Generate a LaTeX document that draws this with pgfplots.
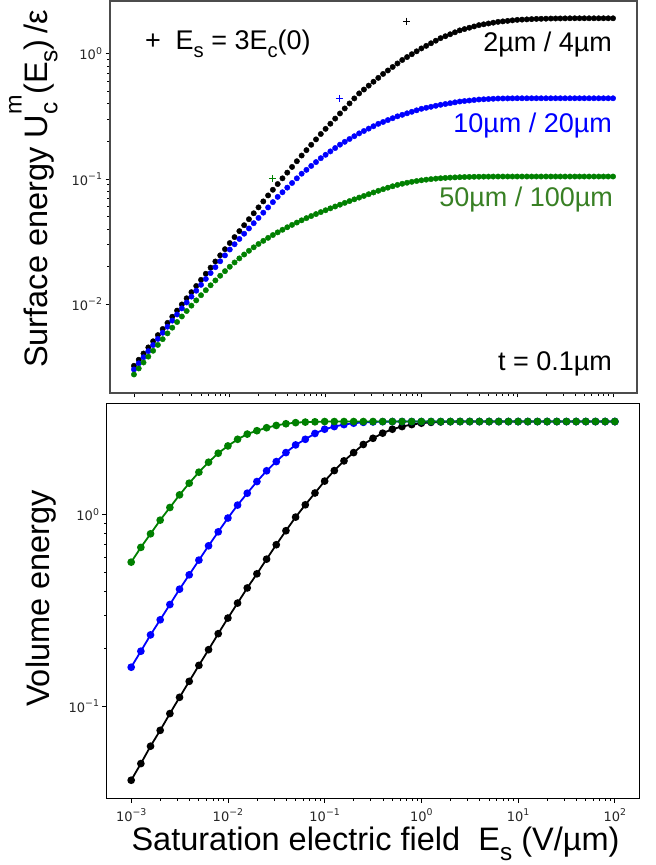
\documentclass[border=0pt]{standalone}
\usepackage{pgfplots}
\pgfplotsset{compat=1.18}
\usepackage{pgfplotstable}
\usepackage{graphicx}
\usepackage{fontspec}
\setmainfont{Liberation Sans}
\newfontfamily\tickfont{DejaVu Sans}
\definecolor{mplgreen}{RGB}{0,128,0}
\definecolor{txtgreen}{RGB}{56,128,36}
\newcommand\lo[1]{\raisebox{-0.3em}{\scalebox{0.75}{#1}}}
\newcommand\hi[1]{\raisebox{0.8em}{\scalebox{0.72}{#1}}}
\newcommand\tsup[1]{\raisebox{0.42em}{\scalebox{0.72}{#1}}}

\pgfplotstableread{
x b l g
1.000e-3 3.23e-3 3.020e-3 2.754e-3
1.122e-3 3.61e-3 3.381e-3 3.076e-3
1.259e-3 4.05e-3 3.780e-3 3.432e-3
1.413e-3 4.53e-3 4.227e-3 3.824e-3
1.585e-3 5.07e-3 4.732e-3 4.258e-3
1.778e-3 5.68e-3 5.297e-3 4.740e-3
1.995e-3 6.35e-3 5.923e-3 5.272e-3
2.239e-3 7.11e-3 6.622e-3 5.861e-3
2.512e-3 7.96e-3 7.413e-3 6.510e-3
2.818e-3 8.91e-3 8.299e-3 7.221e-3
3.162e-3 9.98e-3 9.279e-3 7.998e-3
3.548e-3 1.117e-2 1.034e-2 8.841e-3
3.981e-3 1.250e-2 1.152e-2 9.761e-3
4.467e-3 1.400e-2 1.284e-2 1.075e-2
5.012e-3 1.567e-2 1.431e-2 1.182e-2
5.623e-3 1.754e-2 1.594e-2 1.296e-2
6.310e-3 1.963e-2 1.776e-2 1.419e-2
7.079e-3 2.198e-2 1.979e-2 1.551e-2
7.943e-3 2.460e-2 2.206e-2 1.690e-2
8.913e-3 2.754e-2 2.458e-2 1.839e-2
1.000e-2 3.083e-2 2.738e-2 1.995e-2
1.122e-2 3.44e-2 3.017e-2 2.158e-2
1.259e-2 3.84e-2 3.323e-2 2.326e-2
1.413e-2 4.28e-2 3.660e-2 2.497e-2
1.585e-2 4.78e-2 4.032e-2 2.673e-2
1.778e-2 5.33e-2 4.441e-2 2.851e-2
1.995e-2 5.94e-2 4.892e-2 3.031e-2
2.239e-2 6.63e-2 5.388e-2 3.210e-2
2.512e-2 7.40e-2 5.936e-2 3.392e-2
2.818e-2 8.21e-2 6.540e-2 3.573e-2
3.162e-2 9.12e-2 7.204e-2 3.754e-2
3.548e-2 0.1013 7.845e-2 3.936e-2
3.981e-2 0.1125 8.54e-2 4.121e-2
4.467e-2 0.1249 9.30e-2 4.305e-2
5.012e-2 0.1387 0.1013 4.493e-2
5.623e-2 0.1540 0.1103 4.683e-2
6.310e-2 0.1700 0.1184 4.875e-2
7.079e-2 0.1877 0.1272 5.064e-2
7.943e-2 0.2072 0.1366 5.253e-2
8.913e-2 0.2288 0.1467 5.445e-2
0.1000 0.2515 0.1561 5.636e-2
0.1122 0.2764 0.1662 5.834e-2
0.1259 0.3037 0.1768 6.035e-2
0.1413 0.3338 0.1881 6.241e-2
0.1585 0.3660 0.1982 6.452e-2
0.1778 0.4013 0.2087 6.668e-2
0.1995 0.4400 0.2198 6.887e-2
0.2239 0.4825 0.2314 7.108e-2
0.2512 0.518 0.2418 7.330e-2
0.2818 0.5565 0.2526 7.569e-2
0.3162 0.598 0.2639 7.810e-2
0.3548 0.642 0.2758 8.051e-2
0.3981 0.690 0.2854 8.292e-2
0.4467 0.7355 0.2955 8.531e-2
0.5012 0.7845 0.3059 8.759e-2
0.5623 0.8366 0.3166 8.978e-2
0.6310 0.892 0.3255 9.164e-2
0.7079 0.941 0.3346 9.337e-2
0.7943 0.992 0.3440 9.495e-2
0.8913 1.0459 0.3536 9.638e-2
1.000 1.103 0.3635 9.768e-2
1.122 1.156 0.3703 9.883e-2
1.259 1.212 0.3772 9.984e-2
1.413 1.271 0.3842 0.10072
1.585 1.332 0.3913 0.10146
1.778 1.380 0.3972 0.10209
1.995 1.431 0.4032 0.10263
2.239 1.483 0.4093 0.10308
2.512 1.537 0.4155 0.10347
2.818 1.574 0.4194 0.10378
3.162 1.613 0.4232 0.10402
3.548 1.652 0.4271 0.10421
3.981 1.692 0.4311 0.10435
4.467 1.718 0.4331 0.10447
5.012 1.744 0.4351 0.10457
5.623 1.770 0.4371 0.10464
6.310 1.797 0.4391 0.10469
7.079 1.813 0.4396 0.10471
7.943 1.830 0.4402 0.10471
8.913 1.847 0.4406 0.10471
10.00 1.864 0.4411 0.10471
11.22 1.873 0.4411 0.10471
12.59 1.881 0.4411 0.10471
14.13 1.890 0.4411 0.10471
15.85 1.898 0.4411 0.10471
17.78 1.901 0.4411 0.10471
19.95 1.905 0.4411 0.10471
22.39 1.910 0.4411 0.10471
25.12 1.912 0.4411 0.10471
28.18 1.914 0.4411 0.10471
31.62 1.916 0.4411 0.10471
35.48 1.919 0.4411 0.10471
39.81 1.919 0.4411 0.10471
44.67 1.919 0.4411 0.10471
50.12 1.919 0.4411 0.10471
56.23 1.919 0.4411 0.10471
63.10 1.919 0.4411 0.10471
70.79 1.919 0.4411 0.10471
79.43 1.919 0.4411 0.10471
89.13 1.919 0.4411 0.10471
100.0 1.919 0.4411 0.10471
}\toptab

\pgfplotstableread{
x b l g
1.000e-3 0.0411 0.160 0.566
1.259e-3 0.0502 0.194 0.676
1.585e-3 0.0619 0.236 0.796
1.995e-3 0.0749 0.283 0.938
2.512e-3 0.0916 0.340 1.092
3.162e-3 0.1114 0.409 1.271
3.981e-3 0.135 0.486 1.463
5.012e-3 0.1636 0.580 1.670
6.310e-3 0.1976 0.689 1.883
7.943e-3 0.2395 0.815 2.098
1.000e-2 0.289 0.962 2.29
1.259e-2 0.346 1.124 2.48
1.585e-2 0.415 1.297 2.64
1.995e-2 0.492 1.492 2.75
2.512e-2 0.587 1.698 2.85
3.162e-2 0.698 1.897 2.93
3.981e-2 0.826 2.113 2.99
5.012e-2 0.973 2.318 3.03
6.310e-2 1.128 2.48 3.05
7.943e-2 1.300 2.66 3.06
0.1000 1.50 2.80 3.07
0.1259 1.702 2.89 3.07
0.1585 1.913 2.96 3.07
0.1995 2.113 3.01 3.07
0.2512 2.33 3.04 3.07
0.3162 2.51 3.055 3.07
0.3981 2.67 3.065 3.07
0.5012 2.80 3.07 3.07
0.6310 2.89 3.07 3.07
0.7943 2.96 3.07 3.07
1.000 3.01 3.07 3.07
1.259 3.04 3.07 3.07
1.585 3.055 3.07 3.07
1.995 3.065 3.07 3.07
2.512 3.07 3.07 3.07
3.162 3.07 3.07 3.07
3.981 3.07 3.07 3.07
5.012 3.07 3.07 3.07
6.310 3.07 3.07 3.07
7.943 3.07 3.07 3.07
10.00 3.07 3.07 3.07
12.59 3.07 3.07 3.07
15.85 3.07 3.07 3.07
19.95 3.07 3.07 3.07
25.12 3.07 3.07 3.07
31.62 3.07 3.07 3.07
39.81 3.07 3.07 3.07
50.12 3.07 3.07 3.07
63.10 3.07 3.07 3.07
79.43 3.07 3.07 3.07
100.0 3.07 3.07 3.07
}\bottab

\begin{document}
\begin{tikzpicture}
\path[use as bounding box] (0pt,0pt) rectangle (656pt,-865pt);

% ---------- top axis ----------
\begin{axis}[
  xmode=log, ymode=log,
  scale only axis, anchor=south west,
  at={(110pt,-393pt)}, width=527pt, height=392pt,
  xmin=5.623e-4, xmax=177.8,
  ymin=1.959e-3, ymax=2.636,
  xtick={1e-3,1e-2,1e-1,1,10,100},
  xticklabels={},
  ytick={1e-2,1e-1,1},
  yticklabels={10\tsup{−2},10\tsup{−1},10\tsup{0}},
  tick align=outside, tick pos=left,
  major tick length=4.5pt, minor tick length=2.6pt,
  every tick/.style={black, line width=0.7pt},
  ticklabel style={font=\tickfont\fontsize{13}{15}\selectfont, text=black!85},
  axis line style={black!70, line width=1.2pt},
]
\addplot[only marks, mark=*, mark size=2.7pt, black] table[x=x,y=b] {\toptab};
\addplot[only marks, mark=*, mark size=2.7pt, blue] table[x=x,y=l] {\toptab};
\addplot[only marks, mark=*, mark size=2.7pt, mplgreen] table[x=x,y=g] {\toptab};
\addplot[only marks, mark=+, mark size=3.8pt, black, line width=0.6pt] coordinates {(0.70,1.81)};
\addplot[only marks, mark=+, mark size=3.8pt, blue, line width=0.6pt] coordinates {(0.14,0.438)};
\addplot[only marks, mark=+, mark size=3.8pt, mplgreen, line width=0.6pt] coordinates {(0.028,0.1007)};
\end{axis}

% ---------- bottom axis ----------
\begin{axis}[
  xmode=log, ymode=log,
  scale only axis, anchor=south west,
  at={(107pt,-798pt)}, width=532pt, height=395pt,
  xmin=5.623e-4, xmax=177.8,
  ymin=3.319e-2, ymax=3.837,
  xtick={1e-3,1e-2,1e-1,1,10,100},
  xticklabels={10\tsup{−3},10\tsup{−2},10\tsup{−1},10\tsup{0},10\tsup{1},10\tsup{2}},
  ytick={1e-1,1},
  yticklabels={10\tsup{−1},10\tsup{0}},
  tick align=outside, tick pos=left,
  major tick length=4.5pt, minor tick length=2.6pt,
  every tick/.style={black, line width=0.7pt},
  ticklabel style={font=\tickfont\fontsize{13}{15}\selectfont, text=black!85},
  xticklabel style={yshift=-3pt},
  axis line style={black, line width=1pt},
]
\addplot[black, line width=1.8pt, mark=*, mark size=2.9pt] table[x=x,y=b] {\bottab};
\addplot[blue, line width=1.8pt, mark=*, mark size=2.9pt] table[x=x,y=l] {\bottab};
\addplot[mplgreen, line width=1.8pt, mark=*, mark size=2.9pt] table[x=x,y=g] {\bottab};
\end{axis}

% ---------- texts ----------
\begin{scope}[every node/.style={inner sep=0pt, outer sep=0pt}]
\node[anchor=base west, font=\fontsize{27}{30}\selectfont] at (145pt,-49.3pt)
  {+\hspace{0.55em}E\lo{s} = 3E\lo{c}(0)};
\node[anchor=base east, font=\fontsize{27}{30}\selectfont, black] at (612pt,-51.7pt) {2µm / 4µm};
\node[anchor=base east, font=\fontsize{27}{30}\selectfont, blue] at (612pt,-132.3pt) {10µm / 20µm};
\node[anchor=base east, font=\fontsize{27}{30}\selectfont, txtgreen] at (613pt,-206.7pt) {50µm / 100µm};
\node[anchor=base east, font=\fontsize{27}{30}\selectfont, black] at (612pt,-370.7pt) {t = 0.1µm};

\node[anchor=base, rotate=90, font=\fontsize{32.5}{36}\selectfont] at (47.5pt,-189pt)
  {Surface energy U\makebox[0.62em][l]{\rlap{\hi{m}}\lo{c}}(E\lo{s})\,/ε};
\node[anchor=base, rotate=90, font=\fontsize{32.5}{36}\selectfont] at (49pt,-598.5pt)
  {Volume energy};
\node[anchor=base, font=\fontsize{32.5}{36}\selectfont] at (375.5pt,-850.7pt)
  {Saturation electric field\hspace{0.556em}E\lo{s} (V/µm)};
\end{scope}
\end{tikzpicture}
\end{document}
